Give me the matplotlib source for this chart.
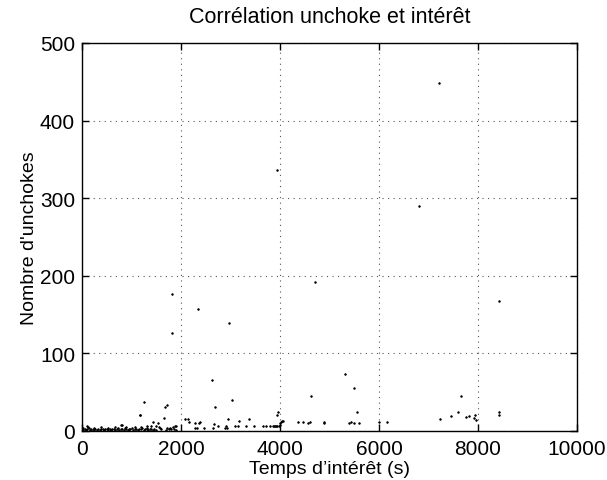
import matplotlib
matplotlib.use("Agg")
import matplotlib.pyplot as plt

plt.rcParams['font.family'] = ['Liberation Sans', 'DejaVu Sans']

title = "Corrélation unchoke et intérêt"
xlabel = "Temps d’intérêt (s)"
ylabel = "Nombre d'unchokes"
xticks = [0, 2000, 4000, 6000, 8000, 10000]
yticks = [0, 100, 200, 300, 400, 500]

# scattered points
x_high = [7210, 3940, 6810, 1818, 2350, 2963, 1825, 4714, 8424, 2620, 5320, 5489,
          1246, 1165, 1717, 1670, 1650, 2687, 3037, 2943, 3380, 3178, 3933, 3960,
          4620, 4896, 4559, 4370, 4040, 4000, 5549, 5428, 5394, 5501, 5590, 5994,
          6155, 7238, 7461, 7650, 7590, 7752, 7812, 7926, 7946, 7953, 8424, 8424]
y_high = [449, 336, 290, 176, 157, 139, 126, 192, 167, 66, 74, 55,
          37, 21, 34, 31, 17, 31, 40, 16, 16, 13, 20, 25,
          45, 10, 10, 11, 13, 10, 24, 12, 10, 10, 10, 12,
          12, 16, 19, 45, 25, 18, 19, 17, 20, 14, 25, 21]

# low-valued points
x_low = [95, 794, 1307, 1394, 1434, 1495, 1542, 1562, 1582, 1724, 1778, 1832, 1873,
         1899, 2074, 2148, 2162, 2290, 2364, 2390, 2283, 2330, 2458, 2646, 2660, 2741,
         2895, 2909, 2929, 3091, 3152, 3313, 3468, 3656, 3717, 3798, 3865, 3946, 4027,
         4061, 4471, 4606, 4883, 802, 1172]
y_low = [6, 8, 7, 7, 12, 7, 10, 5, 4, 4, 4, 5, 7,
         7, 15, 15, 11, 10, 10, 12, 4, 4, 4, 4, 9, 7,
         4, 7, 4, 7, 6, 7, 7, 7, 7, 7, 7, 7, 11,
         13, 11, 11, 11, 8, 21]

# dense cluster near zero
x_dense = [10, 30, 55, 80, 110, 140, 160, 190, 220, 250, 270, 300, 330, 360, 390,
           420, 450, 470, 500, 530, 560, 590, 610, 640, 670, 700, 720, 750, 780,
           810, 840, 870, 900, 930, 950, 980, 1010, 1040, 1070, 1100, 1130, 1160,
           1190, 1220, 1250, 1280, 1310, 1340, 1370, 1400, 1430, 1460, 1500, 1600,
           1700, 1750, 1800, 1850, 1900, 20, 120, 240, 380, 520, 660, 880, 1080,
           1200, 1320, 3880, 3900, 3920, 3985, 4010]
y_dense = [2, 1, 3, 1, 2, 4, 1, 2, 1, 3, 2, 1, 2, 1, 3,
           2, 1, 2, 3, 1, 2, 1, 3, 2, 1, 2, 4, 1, 3,
           2, 1, 4, 2, 1, 3, 2, 4, 1, 3, 2, 1, 3,
           2, 4, 1, 3, 2, 1, 3, 2, 1, 2, 1, 2,
           1, 2, 3, 2, 1, 4, 5, 4, 5, 4, 5, 5, 5,
           5, 4, 6, 6, 7, 6, 8]

fig = plt.figure(figsize=(6.07, 4.81), dpi=100)
ax = fig.add_axes([0.135, 0.1019, 0.8155, 0.8067])

xs = x_high + x_low + x_dense
ys = y_high + y_low + y_dense
ax.plot(xs, ys, linestyle='none', marker='o', ms=1.2, color='k', mec='k', mew=0.5)

ax.set_xlim(0, 10000)
ax.set_ylim(0, 500)
ax.set_xticks(xticks)
ax.set_yticks(yticks)
ax.tick_params(direction='in', length=5, width=1, top=True, right=True,
               labelsize=15, colors='k')
ax.tick_params(axis='x', pad=6)
ax.tick_params(axis='y', pad=5)
for s in ax.spines.values():
    s.set_linewidth(1.0)
ax.grid(True, linestyle=(0, (1, 4)), color='#555555', linewidth=0.8)
ax.set_axisbelow(True)

ax.set_title(title, fontsize=15.5, pad=15)
ax.set_xlabel(xlabel, fontsize=14, labelpad=1)
ax.set_ylabel(ylabel, fontsize=14, labelpad=1)

fig.savefig("out.png", dpi=100)
